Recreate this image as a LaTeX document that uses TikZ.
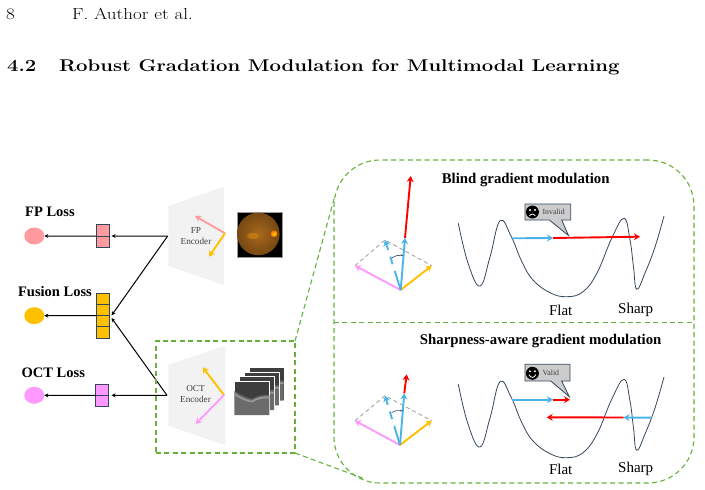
\documentclass[tikz,border=0pt]{standalone}
\usepackage{fontspec}
\usetikzlibrary{fit, positioning, shapes, calc, arrows.meta}
\newfontfamily\figfont{Liberation Serif}
\definecolor{lossred}{HTML}{FF9A9E}
\definecolor{lossorange}{HTML}{FFC000}
\definecolor{losspink}{HTML}{FF99FF}
\definecolor{gradblue}{HTML}{4AB4E6}
\definecolor{zoomgreen}{HTML}{66B03C}
\definecolor{slate}{HTML}{33475B}
\begin{document}
\begin{tikzpicture}
    [
        x=1pt, y=-1pt,
        flow/.style={-{Stealth[length=4pt,width=4pt]}, black, line width=1pt},
        vec/.style={-{Stealth[length=6pt,width=7pt]}, line width=1.9pt},
        zoomline/.style={draw=zoomgreen, line width=1.1pt, dash pattern=on 5pt off 3.4pt},
        hint/.style={black!40, line width=0.8pt, dash pattern=on 4pt off 3pt},
        blended/.style={dash pattern=on 20pt off 7pt on 8pt off 7pt on 30pt},
        cell/.style={draw=slate, line width=0.8pt, minimum width=12.7pt, inner sep=0pt, outer sep=0pt},
        lossdot/.style={ellipse, minimum width=20pt, minimum height=17pt, inner sep=0pt, outer sep=0pt},
        losstext/.style={font=\figfont\fontsize{14.5}{14.5}\selectfont\bfseries},
        headtext/.style={font=\figfont\fontsize{14.8}{14.8}\selectfont\bfseries},
        wordtext/.style={font=\figfont\fontsize{15}{15}\selectfont},
        enctext/.style={font=\figfont\fontsize{9.2}{10}\selectfont, text=black!75, align=center},
        tagtext/.style={font=\figfont\fontsize{7.8}{8}\selectfont, text=black!75},
        tagbox/.style={fill=black!20, draw=slate, line width=0.8pt},
        encoder/.style={fill=black!5}
    ]
    \useasboundingbox (0,0) rectangle (705,490);

    % page header
    \node (page) [anchor=base west, inner sep=0pt] at (6,19) {\scalebox{1.19}[1]{\fontsize{16}{16}\selectfont 8}};
    \node (author) [anchor=base west, inner sep=0pt] at (72,19) {\scalebox{1.19}[1]{\fontsize{16}{16}\selectfont F. Author et al.}};
    \node (secnum) [anchor=base west, inner sep=0pt] at (7,71) {\scalebox{1.195}[1]{\fontsize{17}{17}\selectfont\bfseries 4.2}};
    \node (sectitle) [anchor=base west, inner sep=0pt] at (59,71) {\scalebox{1.195}[1]{\fontsize{17}{17}\selectfont\bfseries Robust Gradation Modulation for Multimodal Learning}};

    % encoders
    \fill [encoder] (168.3,206) -- (224,186.7) -- (224,285) -- (168.3,266) -- cycle;
    \fill [encoder] (168.3,365) -- (225,345.7) -- (225,445) -- (168.3,425.7) -- cycle;
    \node (fpenc) [enctext] at (196,236.5) {FP\\[1pt]Encoder};
    \node (octenc) [enctext] at (195.5,394) {OCT\\[1pt]Encoder};
    \coordinate (fpout) at (167.7,236);
    \coordinate (octout) at (167,395.3);
    \coordinate (fpo) at (225,233.3);
    \coordinate (octo) at (224,395);
    \draw [vec, lossred] (fpo) -- (195,216);
    \draw [vec, lossorange] (fpo) -- (209,256.7);
    \draw [vec, lossorange] (octo) -- (202.7,367.3);
    \draw [vec, losspink] (octo) -- (195.7,424);

    % fundus image
    \node (fundus) [fill=black, draw=black!40, line width=0.4pt, minimum size=45pt, inner sep=0pt] at (259.2,234.2) {};
    \shade [inner color={rgb,255:red,168;green,104;blue,28}, outer color={rgb,255:red,118;green,72;blue,18}] (258.3,234) circle (21.3);
    \fill [orange!70!yellow, opacity=0.35] (253,236) ellipse (6 and 3);
    \shade [inner color=yellow!70!orange, outer color=orange!85!red] (274,233.7) circle (3.3);

    % oct stack
    \foreach \i in {3,2,1,0} {
        \begin{scope}[shift={(4.8*\i,-4.8*\i)}]
            \fill [black!76, draw=white, line width=0.3pt] (234.3,381.3) rectangle (269.3,415);
            \begin{scope}
                \clip (234.3,381.3) rectangle (269.3,415);
                \fill [black!58] (234.3,391) .. controls (242,396) and (247,398) .. (252,399) .. controls (257,396) and (263,394.5) .. (269.3,395) -- (269.3,415) -- (234.3,415) -- cycle;
                \draw [black!40, line width=1.6pt] (234.3,394) .. controls (242,399) and (247,401) .. (252,401.5) .. controls (257,398.5) and (263,397) .. (269.3,397.5);
            \end{scope}
        \end{scope}
    }

    % losses
    \node (fpdot) [lossdot, fill=lossred] at (34.3,236) {};
    \node (fusiondot) [lossdot, fill=lossorange] at (34.3,315.7) {};
    \node (octdot) [lossdot, fill=losspink] at (34.3,395.3) {};
    \node (fplabel) [losstext] at (50,212) {FP Loss};
    \node (fusionlabel) [losstext] at (55,292) {Fusion Loss};
    \node (octlabel) [losstext] at (53.3,372.5) {OCT Loss};

    \node (fpa) [cell, fill=lossred, minimum height=11.2pt, anchor=north] at (102.7,224.8) {};
    \node (fpb) [cell, fill=lossred, minimum height=11.2pt, below=0pt of fpa] {};
    \node (fua) [cell, fill=lossorange, minimum height=11.15pt, anchor=north] at (102.7,293.4) {};
    \node (fub) [cell, fill=lossorange, minimum height=11.15pt, below=0pt of fua] {};
    \node (fuc) [cell, fill=lossorange, minimum height=11.15pt, below=0pt of fub] {};
    \node (fud) [cell, fill=lossorange, minimum height=11.15pt, below=0pt of fuc] {};
    \node (octa) [cell, fill=losspink, minimum height=11.3pt, anchor=north] at (102.2,384) {};
    \node (octb) [cell, fill=losspink, minimum height=11.3pt, below=0pt of octa] {};
    \coordinate (fpin) at (fpa.south east);
    \coordinate (fuin) at (fub.south east);
    \coordinate (octin) at (octa.south east);

    \draw [flow] (fpout) -- ($(fpin)+(2.5,0)$);
    \draw [flow] (octout) -- ($(octin)+(3,0)$);
    \draw [flow] (fpout) -- ($(fuin)+(2.5,-0.3)$);
    \draw [flow] (octout) -- ($(fuin)+(2.5,2.3)$);
    \draw [flow] (fpa.south west) -- (fpdot.east);
    \draw [flow] (fub.south west) -- (fusiondot.east);
    \draw [flow] (octa.south west) -- (octdot.east);

    % zoom frames
    \node (srcbox) [zoomline, minimum width=139pt, minimum height=112pt, inner sep=0pt, outer sep=0pt] at (225.5,397) {};
    \node (bigbox) [zoomline, rounded corners=46pt, minimum width=360pt, minimum height=323pt, inner sep=0pt, outer sep=0pt] at (514,321.5) {};
    \coordinate (topend) at (334,199);
    \coordinate (botend) at (365,479);
    \coordinate (midleft) at ($(bigbox.west)+(0,1)$);
    \coordinate (midright) at ($(bigbox.east)+(0,1)$);
    \draw [zoomline] (midleft) -- (midright);
    \draw [zoomline] (srcbox.north east) -- (topend);
    \draw [zoomline] (srcbox.south east) -- (botend);

    % panel titles and words
    \node (blindtitle) [headtext] at (525.7,180) {Blind gradient modulation};
    \node (sharptitle) [headtext] at (540.7,341) {Sharpness-aware gradient modulation};
    \node (flata) [wordtext] at (560.7,310) {Flat};
    \node (sharpa) [wordtext] at (635.7,309.5) {Sharp};
    \node (flatb) [wordtext] at (560.7,469) {Flat};
    \node (sharpb) [wordtext] at (635.7,468.5) {Sharp};

    % loss curves
    \foreach \dy in {0,161} {
        \draw [slate, line width=0.8pt, shift={(0,\dy)}] plot [smooth, tension=0.7] coordinates
            {(458.3,223.3) (468,263) (480,286) (490,257) (500,220.7) (511,236) (522,262) (533,280)
             (550,292.7) (566.7,296.7) (583,291.7) (597,273) (611.7,238.3) (624,218.3) (630,240) (633.5,267)
             (636.7,289.3) (645,273) (655,247) (664,216)};
    }

    % gradient vectors, top
    \coordinate (oa) at (400.7,290);
    \coordinate (pinka) at (355,265.7);
    \coordinate (orangea) at (431.7,265.7);
    \coordinate (peaka) at (385,240);
    \coordinate (bluea) at (405,238);
    \draw [hint] (pinka) -- (peaka) -- (orangea);
    \draw [vec, losspink] (oa) -- (pinka);
    \draw [vec, lossorange] (oa) -- (orangea);
    \draw [vec, gradblue, blended] (oa) -- (peaka);
    \draw [vec, gradblue] (oa) -- (bluea);
    \draw [vec, red] (bluea) -- (410.7,176);
    \draw [-{Stealth[length=2.5pt]}, slate, line width=0.6pt] (391.7,258) to [bend left=20] (403.3,255.5);

    % gradient vectors, bottom
    \coordinate (ob) at (400,445);
    \coordinate (pinkb) at (355,420.7);
    \coordinate (orangeb) at (431.7,420.7);
    \coordinate (peakb) at (385,395.7);
    \coordinate (blueb) at (404.3,393.3);
    \draw [hint] (pinkb) -- (peakb) -- (orangeb);
    \draw [vec, losspink] (ob) -- (pinkb);
    \draw [vec, lossorange] (ob) -- (orangeb);
    \draw [vec, gradblue, blended] (ob) -- (peakb);
    \draw [vec, gradblue] (ob) -- (blueb);
    \draw [vec, red] (blueb) -- (406.7,374.3);
    \draw [-{Stealth[length=2.5pt]}, slate, line width=0.6pt] (391.7,412.5) to [bend left=20] (402.7,411);

    % arrows on the curves
    \coordinate (ta) at (511.7,238.3);
    \coordinate (tb) at (553,238);
    \draw [vec, red] (tb) -- (640,236.7);
    \draw [vec, gradblue] (ta) -- (tb);
    \coordinate (tc) at (511.7,399.7);
    \coordinate (td) at (553,399.7);
    \draw [vec, red] (td) -- (570,399.7);
    \draw [vec, gradblue] (tc) -- (td);
    \coordinate (te) at (651.7,417.7);
    \coordinate (tf) at (623.5,417.5);
    \draw [vec, red] (tf) -- (546.7,417.3);
    \draw [vec, gradblue] (te) -- (tf);

    % callouts
    \draw [tagbox] (525,204) -- (570.7,204) -- (570.7,220) -- (561.7,220) -- (568.5,235.5) -- (549.3,220) -- (525,220) -- cycle;
    \node (invalidface) [circle, fill=black, minimum size=13pt, inner sep=0pt] at (532.4,212) {};
    \fill [white] (529.9,210) circle (1.1) (534.9,210) circle (1.1);
    \draw [white, line width=0.8pt] (529.4,216) .. controls (531,213.5) and (533.8,213.5) .. (535.4,216);
    \node (invalidtext) [tagtext, right=0pt of invalidface] {Invalid};

    \draw [tagbox] (525,364.3) -- (570,364.3) -- (570,381) -- (561.7,381) -- (569.3,396.7) -- (550.7,381) -- (525,381) -- cycle;
    \node (validface) [circle, fill=black, minimum size=13pt, inner sep=0pt] at (532.4,373.3) {};
    \fill [white] (529.9,371.3) circle (1.1) (534.9,371.3) circle (1.1);
    \draw [white, line width=0.8pt] (528.9,374.6) .. controls (530.5,378.3) and (534.3,378.3) .. (535.9,374.6);
    \node (validtext) [tagtext, right=0pt of validface] {Valid};
\end{tikzpicture}
\end{document}
